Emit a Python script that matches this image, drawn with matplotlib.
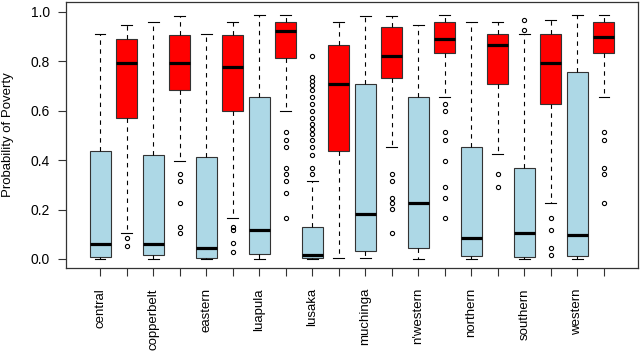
import matplotlib
matplotlib.use("Agg")
import matplotlib.pyplot as plt

plt.rcParams["font.family"] = ["Liberation Sans", "DejaVu Sans"]

regions = ["central", "copperbelt", "eastern", "luapula", "lusaka",
           "muchinga", "n'western", "northern", "southern", "western"]

# five-number summaries: (whislo, q1, med, q3, whishi)
blue_stats = [
    (0.000, 0.009, 0.059, 0.438, 0.912),
    (0.000, 0.015, 0.059, 0.423, 0.960),
    (0.000, 0.005, 0.046, 0.411, 0.912),
    (0.000, 0.020, 0.117, 0.657, 0.987),
    (0.000, 0.003, 0.016, 0.130, 0.315),
    (0.003, 0.032, 0.184, 0.710, 0.985),
    (0.000, 0.043, 0.225, 0.656, 0.948),
    (0.000, 0.012, 0.086, 0.453, 0.960),
    (0.000, 0.007, 0.104, 0.368, 0.912),
    (0.000, 0.012, 0.097, 0.757, 0.987),
]
red_stats = [
    (0.104, 0.571, 0.793, 0.890, 0.948),
    (0.398, 0.684, 0.793, 0.907, 0.983),
    (0.164, 0.601, 0.776, 0.907, 0.960),
    (0.601, 0.815, 0.923, 0.960, 0.987),
    (0.003, 0.438, 0.708, 0.866, 0.960),
    (0.453, 0.734, 0.821, 0.941, 0.985),
    (0.657, 0.833, 0.892, 0.960, 0.989),
    (0.425, 0.710, 0.866, 0.912, 0.960),
    (0.225, 0.628, 0.793, 0.912, 0.969),
    (0.657, 0.833, 0.900, 0.960, 0.987),
]

blue_fliers = [
    [], [], [], [],
    [0.823, 0.738, 0.722, 0.705, 0.684, 0.657, 0.628, 0.601, 0.571, 0.547,
     0.527, 0.507, 0.480, 0.453, 0.422, 0.368, 0.346],
    [], [], [],
    [0.969, 0.926],
    [],
]
red_fliers = [
    [0.083, 0.051],
    [0.346, 0.315, 0.225, 0.130, 0.104],
    [0.130, 0.117, 0.063, 0.027],
    [0.513, 0.483, 0.453, 0.368, 0.346, 0.315, 0.267, 0.164],
    [],
    [0.346, 0.315, 0.245, 0.225, 0.202, 0.104],
    [0.628, 0.601, 0.513, 0.483, 0.398, 0.292, 0.245, 0.164],
    [0.343, 0.290],
    [0.164, 0.117, 0.046, 0.016],
    [0.513, 0.483, 0.368, 0.346, 0.225],
]


def make_stats(summary, fliers):
    out = []
    for (lo, q1, med, q3, hi), fl in zip(summary, fliers):
        out.append({"whislo": lo, "q1": q1, "med": med, "q3": q3,
                    "whishi": hi, "fliers": fl})
    return out


fig = plt.figure(figsize=(6.4, 3.52), dpi=100)
ax = fig.add_axes([0.1027, 0.239, 0.8946, 0.755])

n = len(regions)
blue_pos = [2 * i + 1 for i in range(n)]
red_pos = [2 * i + 2 for i in range(n)]

common = dict(
    widths=0.8, patch_artist=True, manage_ticks=False,
    whiskerprops=dict(color="black", lw=0.8, linestyle=(0, (4, 4))),
    capprops=dict(color="black", lw=0.8),
    medianprops=dict(color="black", lw=2.3, solid_capstyle="butt"),
    flierprops=dict(marker="o", markerfacecolor="none", markeredgecolor="black",
                    markersize=3.0, markeredgewidth=0.8),
)
bb = ax.bxp(make_stats(blue_stats, blue_fliers), positions=blue_pos, **common)
rb = ax.bxp(make_stats(red_stats, red_fliers), positions=red_pos, **common)
for p in bb["boxes"]:
    p.set_facecolor("#ADD8E6")
    p.set_edgecolor("#333333")
    p.set_linewidth(0.8)
for p in rb["boxes"]:
    p.set_facecolor("#FF0000")
    p.set_edgecolor("#333333")
    p.set_linewidth(0.8)
# caps half of the box width, as in R
for c in bb["caps"] + rb["caps"]:
    x = c.get_xdata()
    mid = (x[0] + x[1]) / 2
    c.set_xdata([mid - 0.2, mid + 0.2])

ax.set_xlim(-0.3, 21.3)
ax.set_ylim(-0.036, 1.04)

ticks = list(range(1, 2 * n + 1))
labels = []
for i in range(n):
    labels += [regions[i], ""]
ax.set_xticks(ticks)
ax.set_xticklabels(labels, rotation=90, fontsize=9.5)
ax.set_yticks([0.0, 0.2, 0.4, 0.6, 0.8, 1.0])
ax.set_yticklabels(["0.0", "0.2", "0.4", "0.6", "0.8", "1.0"], fontsize=10)
ax.tick_params(direction="out", length=5.5, width=0.8, color="#333333")
ax.tick_params(axis="x", pad=9)
ax.tick_params(axis="y", pad=6)
ax.set_ylabel("Probability of Poverty", fontsize=9.5, labelpad=12)

for s in ax.spines.values():
    s.set_color("#333333")
    s.set_linewidth(0.9)

fig.savefig("out.png", dpi=100)
